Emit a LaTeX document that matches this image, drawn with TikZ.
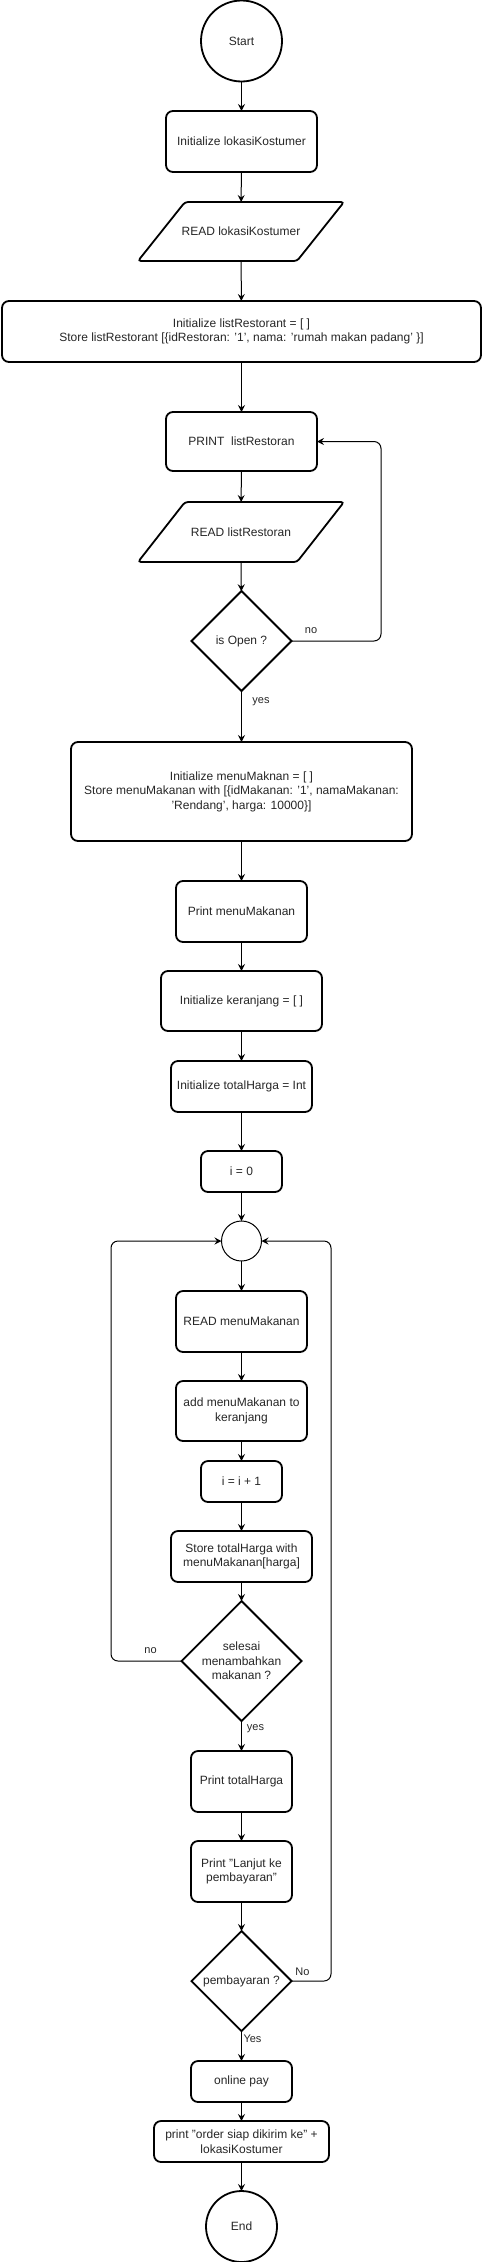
\documentclass[tikz,border=0pt]{standalone}
\usepackage{fontspec}
\setmainfont{Liberation Sans}
\usetikzlibrary{shapes.geometric,arrows.meta,calc}
\newcommand{\sqt}{\symbol{39}}
\newcommand{\dqt}{\symbol{34}}
\begin{document}
\begin{tikzpicture}[x=1pt,y=-1pt,
  every node/.style={font=\fontsize{12}{14.4}\selectfont, align=center, inner sep=0pt, outer sep=0pt, text=black!85},
  shapeline/.style={draw=black, line width=1.8pt},
  proc/.style 2 args={shapeline, rounded corners=7pt, rectangle, minimum width=#1pt, minimum height=#2pt},
  iobox/.style 2 args={rectangle, minimum width=#1pt, minimum height=#2pt},
  term/.style={shapeline, circle, minimum size=#1pt},
  dec/.style={shapeline, diamond, minimum width=#1pt, minimum height=#1pt},
  arr/.style={draw=black, line width=1pt, rounded corners=7pt, -{Stealth[length=7pt,width=7pt,inset=2.5pt]}},
  lbl/.style={font=\fontsize{11}{13}\selectfont}
]
\useasboundingbox (0,0) rectangle (482,2262);

% nodes
\node[term=81] (start) at (241.5,41) {Start};
\node[proc={151}{61}] (init1) at (241.5,141.5) {Initialize lokasiKostumer};
\node[iobox={206}{59}] (read1) at (241,231.5) {READ lokasiKostumer};
\node[proc={479}{61}] (initList) at (241.5,331.5) {Initialize listRestorant = [ ]\\Store listRestorant [\{idRestoran: \sqt1\sqt, nama: \sqt rumah makan padang\sqt\ \}]};
\node[proc={151}{59}] (printList) at (241.5,441.5) {PRINT\ \ listRestoran};
\node[iobox={206}{60}] (read2) at (241,532) {READ listRestoran};
\node[dec=100, label={[font=\fontsize{12}{14.4}\selectfont]center:is Open ?}] (isOpen) at (241.5,641) {};
\node[proc={341}{99}] (menu) at (241.5,791.5) {Initialize menuMaknan = [ ]\\Store menuMakanan with [\{idMakanan: \sqt1\sqt, namaMakanan:\\\sqt Rendang\sqt, harga: 10000\}]};
\node[proc={131}{61}] (printMenu) at (241.5,911.5) {Print menuMakanan};
\node[proc={161}{60}] (initKer) at (241.5,1001) {Initialize keranjang = [ ]};
\node[proc={141}{51}] (initTotal) at (241.5,1086.5) {Initialize totalHarga = Int};
\node[proc={81}{41}] (i0) at (241.5,1171.5) {i = 0};
\node[draw=black, line width=1pt, circle, minimum size=40pt] (merge) at (241.5,1241) {};
\node[proc={131}{61}] (readMenu) at (241.5,1321.5) {READ menuMakanan};
\node[proc={131}{60}] (add) at (241.5,1411) {add menuMakanan to\\keranjang};
\node[proc={81}{41}] (inc) at (241.5,1481.5) {i = i + 1};
\node[proc={141}{51}] (store) at (241.5,1556.5) {Store totalHarga with\\menuMakanan[harga]};
\node[dec=120, label={[align=center,font=\fontsize{12}{14.4}\selectfont]center:selesai\\menambahkan\\makanan ?}] (selesai) at (241.5,1661) {};
\node[proc={101}{61}] (printTotal) at (241.5,1781.5) {Print totalHarga};
\node[proc={101}{61}] (printLanjut) at (241.5,1871.5) {Print \dqt Lanjut ke\\pembayaran\dqt};
\node[dec=100, label={[font=\fontsize{12}{14.4}\selectfont]center:pembayaran ?}] (bayar) at (241.5,1981) {};
\node[proc={101}{41}] (online) at (241.5,2081.5) {online pay};
\node[proc={175}{41}] (printOrder) at (241.5,2141.5) {print \dqt order siap dikirim ke\dqt\ +\\lokasiKostumer};
\node[term=71] (end) at (241.5,2226.5) {End};

% parallelograms
\draw[shapeline, rounded corners=3pt] (read1.south west) -- ($(read1.north west)+(47,0)$) -- (read1.north east) -- ($(read1.south east)+(-47,0)$) -- cycle;
\draw[shapeline, rounded corners=3pt] (read2.south west) -- ($(read2.north west)+(47,0)$) -- (read2.north east) -- ($(read2.south east)+(-47,0)$) -- cycle;

% coordinates for loops
\coordinate (cA1) at (381,641);
\coordinate (cA2) at (381,441.5);
\coordinate (cB1) at (111,1661);
\coordinate (cB2) at (111,1241);
\coordinate (cC1) at (331,1981);
\coordinate (cC2) at (331,1241);

% connectors
\draw[arr] (start) -- (init1);
\draw[arr] (init1) -- (read1);
\draw[arr] (read1) -- (initList);
\draw[arr] (initList) -- (printList);
\draw[arr] (printList) -- (read2);
\draw[arr] (read2) -- (isOpen);
\draw[arr] (isOpen.east) -- (cA1) -- (cA2) -- (printList.east);
\draw[arr] (isOpen) -- (menu);
\draw[arr] (menu) -- (printMenu);
\draw[arr] (printMenu) -- (initKer);
\draw[arr] (initKer) -- (initTotal);
\draw[arr] (initTotal) -- (i0);
\draw[arr] (i0) -- (merge);
\draw[arr] (merge) -- (readMenu);
\draw[arr] (readMenu) -- (add);
\draw[arr] (add) -- (inc);
\draw[arr] (inc) -- (store);
\draw[arr] (store) -- (selesai);
\draw[arr] (selesai.west) -- (cB1) -- (cB2) -- (merge.west);
\draw[arr] (selesai) -- (printTotal);
\draw[arr] (printTotal) -- (printLanjut);
\draw[arr] (printLanjut) -- (bayar);
\draw[arr] (bayar.east) -- (cC1) -- (cC2) -- (merge.east);
\draw[arr] (bayar) -- (online);
\draw[arr] (online) -- (printOrder);
\draw[arr] (printOrder) -- (end);

% labels
\node[lbl] (lno1) at (311,631) {no};
\node[lbl] (lyes1) at (261,702) {yes};
\node[lbl] (lno2) at (150.5,1651) {no};
\node[lbl] (lyes2) at (255.5,1729) {yes};
\node[lbl] (lno3) at (302.5,1972) {No};
\node[lbl] (lyes3) at (252.5,2039) {Yes};
\end{tikzpicture}
\end{document}
